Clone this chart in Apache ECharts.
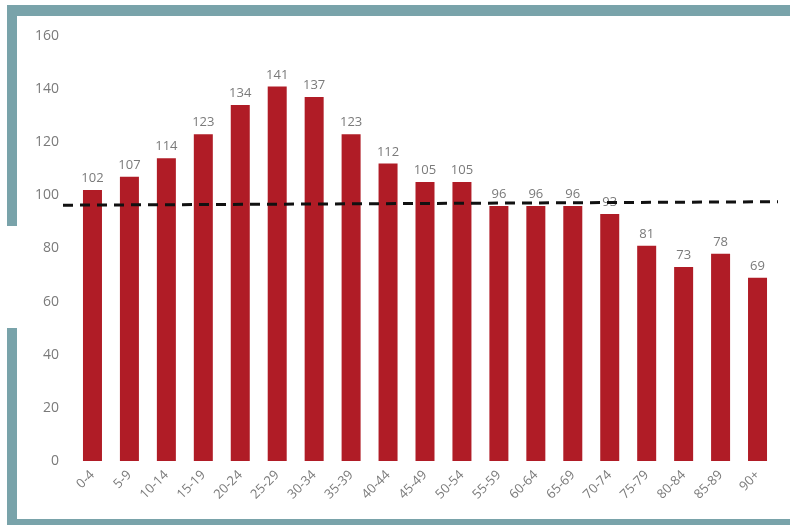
<!DOCTYPE html>
<html>
<head>
<meta charset="utf-8">
<script src="https://cdn.jsdelivr.net/npm/echarts@6/dist/echarts.min.js"></script>
<style>
  html, body { margin: 0; padding: 0; background: #ffffff; }
  #chart { width: 790px; height: 525px; }
</style>
</head>
<body>
<div id="chart"></div>
<script>
// Age groups and their index values
const ageGroups = ['0-4', '5-9', '10-14', '15-19', '20-24', '25-29', '30-34', '35-39', '40-44',
  '45-49', '50-54', '55-59', '60-64', '65-69', '70-74', '75-79', '80-84', '85-89', '90+'];
const indexValues = [102, 107, 114, 123, 134, 141, 137, 123, 112, 105, 105, 96, 96, 96, 93, 81, 73, 78, 69];

// Reference (average) line, start and end values
const refLineEnds = ['start', 'end'];
const refLineValues = [96.3, 97.6];

// Value axis ticks
const yTicks = [0, 20, 40, 60, 80, 100, 120, 140, 160];

const frameColor = '#79a3aa';
const textColor = '#7a7a7a';
const fontFamily = 'Open Sans, Lato, sans-serif';

const chart = echarts.init(document.getElementById('chart'), null, { renderer: 'canvas' });

chart.setOption({
  backgroundColor: '#ffffff',
  animation: false,
  graphic: [
    { type: 'rect', shape: { x: 7, y: 5, width: 783, height: 11 }, style: { fill: frameColor }, silent: true },
    { type: 'rect', shape: { x: 7, y: 5, width: 10, height: 221 }, style: { fill: frameColor }, silent: true },
    { type: 'rect', shape: { x: 7, y: 328, width: 10, height: 197 }, style: { fill: frameColor }, silent: true },
    { type: 'rect', shape: { x: 7, y: 519, width: 783, height: 6 }, style: { fill: frameColor }, silent: true }
  ],
  grid: [
    { left: 74, right: 14, top: 36, bottom: 64 },
    { left: 63, right: 12, top: 36, bottom: 64 }
  ],
  xAxis: [
    {
      type: 'category',
      gridIndex: 0,
      data: ageGroups,
      axisLine: { show: false },
      axisTick: { show: false },
      axisLabel: {
        rotate: 45,
        color: textColor,
        fontSize: 13,
        fontFamily: fontFamily,
        margin: 12,
        interval: 0
      }
    },
    {
      type: 'category',
      gridIndex: 1,
      data: refLineEnds,
      boundaryGap: false,
      show: false
    }
  ],
  yAxis: [
    {
      type: 'value',
      gridIndex: 0,
      min: yTicks[0],
      max: yTicks[yTicks.length - 1],
      interval: yTicks[1] - yTicks[0],
      splitLine: { show: false },
      axisLine: { show: false },
      axisTick: { show: false },
      axisLabel: { color: textColor, fontSize: 14, fontFamily: fontFamily, margin: 15 }
    },
    {
      type: 'value',
      gridIndex: 1,
      min: yTicks[0],
      max: yTicks[yTicks.length - 1],
      show: false
    }
  ],
  series: [
    {
      type: 'bar',
      xAxisIndex: 0,
      yAxisIndex: 0,
      data: indexValues,
      barWidth: 19,
      itemStyle: { color: '#b01c26' },
      label: {
        show: true,
        position: 'top',
        distance: 5,
        color: textColor,
        fontSize: 13,
        fontFamily: fontFamily
      }
    },
    {
      type: 'line',
      xAxisIndex: 1,
      yAxisIndex: 1,
      data: refLineValues,
      symbol: 'none',
      z: 5,
      lineStyle: { color: '#111111', width: 3, type: [10, 7] }
    }
  ]
});
</script>
</body>
</html>
